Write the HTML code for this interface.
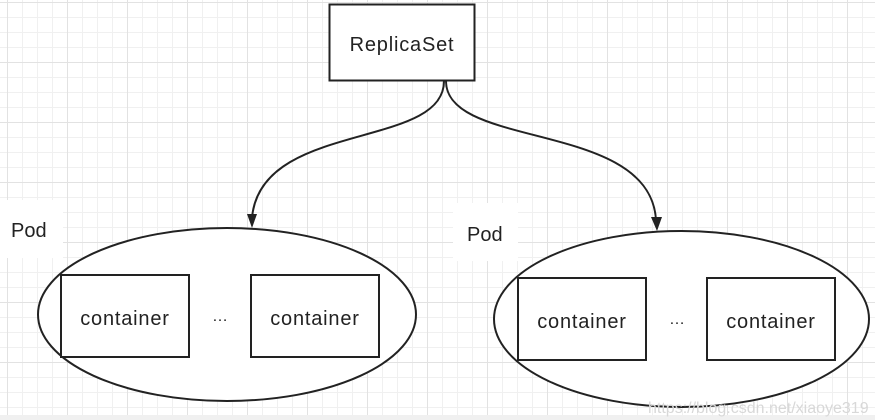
<!DOCTYPE html>
<html><head><style>
html,body{margin:0;padding:0;width:875px;height:420px;overflow:hidden;background:#fff}
.g{position:absolute;left:0;top:0;width:875px;height:415px;
background-image:
linear-gradient(to right,#e2e2e2 1px,transparent 1px),
linear-gradient(to bottom,#e2e2e2 1px,transparent 1px),
linear-gradient(to right,#f0f0f0 1px,transparent 1px),
linear-gradient(to bottom,#f0f0f0 1px,transparent 1px);
background-size:60px 60px,60px 60px,15px 15px,15px 15px;
background-position:7px 2px,7px 2px,7px 2px,7px 2px}
.strip{position:absolute;left:0;top:415px;width:875px;height:5px;background:#f0f0f0}
svg{position:absolute;left:0;top:0}
text{font-family:"Liberation Sans",sans-serif;fill:#222}
.c{font-size:20px;letter-spacing:0.8px}
</style></head><body>
<div class="g"></div><div class="strip"></div>
<svg width="875" height="420">
<rect x="0" y="200" width="63" height="58" fill="#fff"/>
<rect x="453" y="203" width="65" height="58" fill="#fff"/>
<rect x="329.5" y="4.5" width="145" height="76" fill="#fff" stroke="#222" stroke-width="2"/>
<text x="402" y="51" font-size="20" letter-spacing="0.8" text-anchor="middle">ReplicaSet</text>
<path d="M444,81 C444,150 260,120 252,218" fill="none" stroke="#222" stroke-width="2"/>
<path d="M247,214 L252,228 L257,214 Z" fill="#222"/>
<path d="M446,81 C446,150 650,120 656,220" fill="none" stroke="#222" stroke-width="2"/>
<path d="M651,217 L657,231 L662,217 Z" fill="#222"/>
<ellipse cx="227" cy="314.5" rx="189" ry="86.5" fill="#fff" stroke="#222" stroke-width="2"/>
<ellipse cx="681.5" cy="319" rx="187.5" ry="88" fill="#fff" stroke="#222" stroke-width="2"/>
<text x="11" y="237" font-size="20">Pod</text>
<text x="467" y="241" font-size="20">Pod</text>
<rect x="61" y="275" width="128" height="82" fill="#fff" stroke="#222" stroke-width="2"/>
<rect x="251" y="275" width="128" height="82" fill="#fff" stroke="#222" stroke-width="2"/>
<rect x="518" y="278" width="128" height="82" fill="#fff" stroke="#222" stroke-width="2"/>
<rect x="707" y="278" width="128" height="82" fill="#fff" stroke="#222" stroke-width="2"/>
<text class="c" x="125" y="325" text-anchor="middle">container</text>
<text class="c" x="315" y="325" text-anchor="middle">container</text>
<text class="c" x="582" y="328" text-anchor="middle">container</text>
<text class="c" x="771" y="328" text-anchor="middle">container</text>
<text x="220" y="321" font-size="16" text-anchor="middle">…</text>
<text x="677" y="324" font-size="16" text-anchor="middle">…</text>
<text x="648" y="413" font-size="16" style="fill:#d8d8d8">https://blog.csdn.net/xiaoye319</text>
</svg>
</body></html>
